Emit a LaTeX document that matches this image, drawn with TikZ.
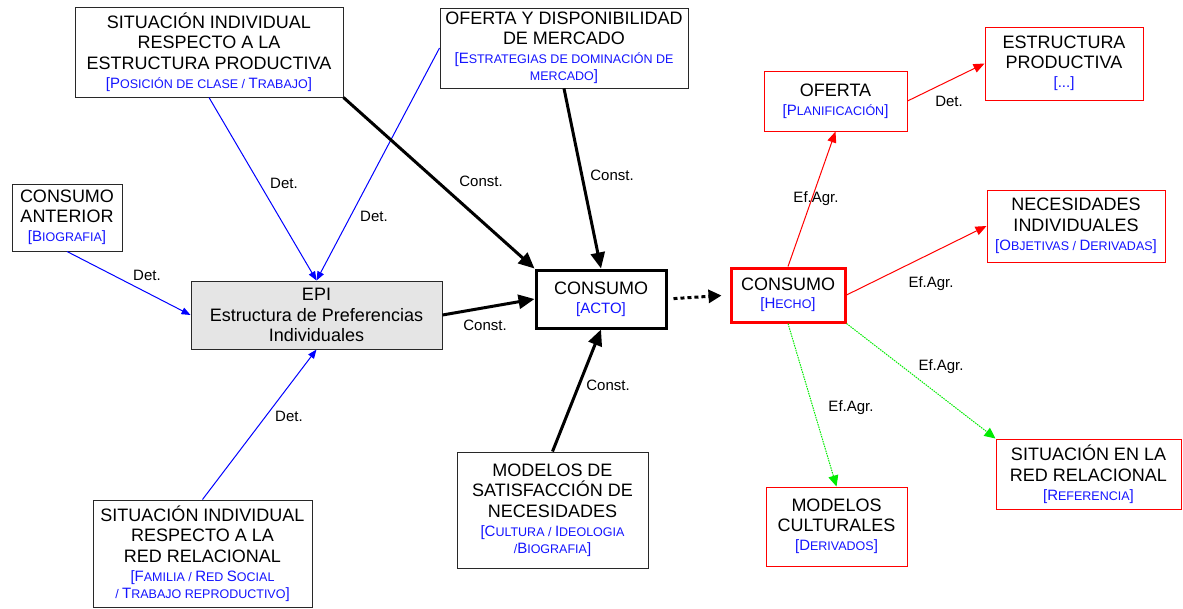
\documentclass[tikz,border=0pt]{standalone}
\usepackage{fontspec}
\setmainfont{Liberation Sans}
\usetikzlibrary{arrows.meta}

\definecolor{boxgray}{RGB}{229,229,229}
\definecolor{edgegray}{RGB}{40,40,40}
\definecolor{linkgreen}{RGB}{0,235,0}
\definecolor{txtblue}{RGB}{20,20,255}

% blue bracketed sub-line, and its small-capital parts
\newcommand\subtxt[1]{{\color{txtblue}\fontsize{15}{17}\selectfont #1}}
\newcommand\smc[1]{{\fontsize{12.5}{17}\selectfont #1}}

\tikzset{
  nbox/.style={draw=edgegray, line width=1pt, inner sep=0pt, align=center,
    fill=white, font=\fontsize{18}{20.5}\selectfont},
  redbox/.style={nbox, draw=red},
  lbl/.style={inner sep=0pt, font=\fontsize{15}{18}\selectfont},
  blueln/.style={blue, line width=1pt, -{Triangle[length=9pt,width=7pt]}},
  blackln/.style={line width=3pt, -{Triangle[length=16pt,width=14pt]}},
  redln/.style={red, line width=1pt, -{Triangle[length=11pt,width=9pt]}},
  greenln/.style={linkgreen, line width=1pt, dash pattern=on 1.5pt off 1pt,
    -{Triangle[length=11pt,width=10pt]}},
}

\begin{document}
\begin{tikzpicture}[x=1pt,y=-1pt]
\useasboundingbox (0,0) rectangle (1183,608);

% ---- left / centre: determinants of consumption ----
\node[nbox, minimum width=268, minimum height=90] (sitep) at (209,52)
  {SITUACIÓN INDIVIDUAL\\RESPECTO A LA\\ESTRUCTURA PRODUCTIVA\\[-1.5pt]
   \subtxt{[P\smc{OSICIÓN DE CLASE / }T\smc{RABAJO}]}};

\node[nbox, minimum width=248, minimum height=80] (ofmerc) at (564,48)
  {OFERTA Y DISPONIBILIDAD\\DE MERCADO\\[-1.5pt]
   \subtxt{[E\smc{STRATEGIAS DE DOMINACIÓN DE}}\\[-3.5pt]
   \subtxt{\smc{MERCADO}]}};

\node[nbox, minimum width=110, minimum height=67] (cant) at (67,217.5)
  {CONSUMO\\ANTERIOR\\[-1.5pt]\subtxt{[B\smc{IOGRAFIA}]}};

\node[nbox, fill=boxgray, minimum width=251, minimum height=68] (epi) at (316.5,315)
  {EPI\\Estructura de Preferencias\\Individuales};

\node[nbox, line width=3pt, draw=black, minimum width=130, minimum height=58] (acto) at (601,299)
  {CONSUMO\\[-1.5pt]\subtxt{[ACTO]}};

\node[nbox, minimum width=191, minimum height=116] (modsat) at (552.5,510)
  {MODELOS DE\\SATISFACCIÓN DE\\NECESIDADES\\[-1.5pt]
   \subtxt{[C\smc{ULTURA / }I\smc{DEOLOGIA}}\\[-3.5pt]
   \subtxt{\smc{/}B\smc{IOGRAFIA}]}};

\node[nbox, minimum width=219, minimum height=107] (sitred) at (202.5,553.5)
  {SITUACIÓN INDIVIDUAL\\RESPECTO A LA\\RED RELACIONAL\\[-1.5pt]
   \subtxt{[F\smc{AMILIA / }R\smc{ED }S\smc{OCIAL}}\\[-3.5pt]
   \subtxt{\smc{/ }T\smc{RABAJO REPRODUCTIVO}]}};

% ---- right: effects of consumption ----
\node[redbox, line width=3pt, minimum width=114, minimum height=54] (hecho) at (788,295)
  {CONSUMO\\[-2.5pt]\subtxt{[H\smc{ECHO}]}};

\node[redbox, minimum width=143, minimum height=60] (oferta) at (835.5,101)
  {OFERTA\\[-1.5pt]\subtxt{[P\smc{LANIFICACIÓN}]}};

\node[redbox, minimum width=158, minimum height=73] (estprod) at (1064,63.5)
  {ESTRUCTURA\\PRODUCTIVA\\[-1.5pt]\subtxt{[...]}};

\node[redbox, minimum width=178, minimum height=72] (necind) at (1076,226)
  {NECESIDADES\\INDIVIDUALES\\[-1.5pt]
   \subtxt{[O\smc{BJETIVAS / }D\smc{ERIVADAS}]}};

\node[redbox, minimum width=141, minimum height=79] (modcult) at (836.5,526.5)
  {MODELOS\\CULTURALES\\[-1.5pt]\subtxt{[D\smc{ERIVADOS}]}};

\node[redbox, minimum width=185, minimum height=70] (sitrr) at (1088.5,474)
  {SITUACIÓN EN LA\\RED RELACIONAL\\[-1.5pt]\subtxt{[R\smc{EFERENCIA}]}};

% ---- determination links into EPI ----
\draw[blueln] (sitep.south) -- (epi.north);
\draw[blueln] (ofmerc.west) -- (epi.north);
\draw[blueln] (cant.south) -- (epi.west);
\draw[blueln] (sitred.north) -- (epi.south);

% ---- constitutive links into the act of consumption ----
\draw[blackln] (sitep.south east) -- (acto.north west);
\draw[blackln] (ofmerc.south) -- (acto.north);
\draw[blackln] (epi.east) -- (acto.west);
\draw[blackln] (modsat.north) -- (acto.south);

\draw[line width=3pt, dash pattern=on 4pt off 3pt, -{Triangle[length=13pt,width=13pt]},
  shorten <=6pt, shorten >=8pt] (acto.east) -- (hecho.west);

% ---- aggregate effects ----
\draw[redln] (hecho.north) -- (oferta.south);
\draw[redln] (hecho.east) -- (necind.west);
\draw[redln] (oferta.east) -- (estprod.west);
\draw[greenln] (hecho.south) -- (modcult.north);
\draw[greenln] (hecho.south east) -- (sitrr.north west);

% ---- link labels ----
\node[lbl] (l1) at (284,183) {Det.};
\node[lbl] (l2) at (374,216) {Det.};
\node[lbl] (l3) at (147,275) {Det.};
\node[lbl] (l4) at (289,416) {Det.};
\node[lbl] (l5) at (481,181) {Const.};
\node[lbl] (l6) at (612,175) {Const.};
\node[lbl] (l7) at (485,325) {Const.};
\node[lbl] (l8) at (608,385) {Const.};
\node[lbl] (l9) at (816,199) {Ef.Agr.};
\node[lbl] (l10) at (931,284) {Ef.Agr.};
\node[lbl] (l11) at (851,408) {Ef.Agr.};
\node[lbl] (l12) at (941,367) {Ef.Agr.};
\node[lbl] (l13) at (949,101) {Det.};
\end{tikzpicture}
\end{document}
